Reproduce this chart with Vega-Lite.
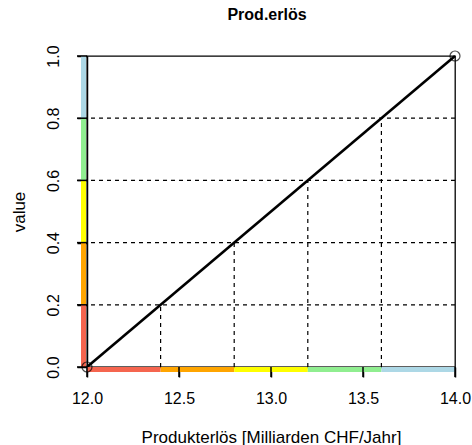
{
  "$schema": "https://vega.github.io/schema/vega-lite/v6.json",
  "width": 368,
  "height": 311,
  "autosize": {"type": "none"},
  "padding": {"left": 87, "top": 56, "right": 17, "bottom": 78},
  "title": {"text": "Prod.erlös", "fontSize": 16, "fontWeight": "bold", "font": "Liberation Sans", "color": "black", "offset": 22, "anchor": "middle", "dx": -4},
  "config": {
    "font": "Liberation Sans",
    "view": {"stroke": "black", "strokeWidth": 1.3},
    "axis": {"grid": false, "domainColor": "black", "domainWidth": 1.5, "labelColor": "black", "labelFontSize": 16, "titleColor": "black", "titleFontSize": 17, "titleFontWeight": "normal", "labelFont": "Liberation Sans", "titleFont": "Liberation Sans"},
    "axisX": {"ticks": true, "tickColor": "#000000", "tickWidth": 1.5, "tickSize": 10},
    "axisY": {"ticks": true, "tickColor": "#000000", "tickWidth": 1.5, "tickSize": 10}
  },
  "datasets": {
    "bands": [
      {"xlo": 12.0, "xhi": 12.4, "ylo": 0.0, "yhi": 0.2, "base": 0, "left": 12, "c": "#F5654F"},
      {"xlo": 12.4, "xhi": 12.8, "ylo": 0.2, "yhi": 0.4, "base": 0, "left": 12, "c": "#FFA500"},
      {"xlo": 12.8, "xhi": 13.2, "ylo": 0.4, "yhi": 0.6, "base": 0, "left": 12, "c": "#FFFF00"},
      {"xlo": 13.2, "xhi": 13.6, "ylo": 0.6, "yhi": 0.8, "base": 0, "left": 12, "c": "#90EE90"},
      {"xlo": 13.6, "xhi": 14.0, "ylo": 0.8, "yhi": 1.0, "base": 0, "left": 12, "c": "#ADD8E6"}
    ],
    "cuts": [
      {"x": 12.4, "y": 0.2, "base": 0},
      {"x": 12.8, "y": 0.4, "base": 0},
      {"x": 13.2, "y": 0.6, "base": 0},
      {"x": 13.6, "y": 0.8, "base": 0}
    ],
    "xticks": [
      {"v": 12.0, "base": 0},
      {"v": 12.5, "base": 0},
      {"v": 13.0, "base": 0},
      {"v": 13.5, "base": 0},
      {"v": 14.0, "base": 0}
    ],
    "yticks": [
      {"v": 0.0, "left": 12},
      {"v": 0.2, "left": 12},
      {"v": 0.4, "left": 12},
      {"v": 0.6, "left": 12},
      {"v": 0.8, "left": 12},
      {"v": 1.0, "left": 12}
    ],
    "line": [
      {"x": 12.0, "y": 0.0},
      {"x": 14.0, "y": 1.0}
    ]
  },
  "layer": [
    {
      "data": {"name": "line"},
      "mark": {"type": "line", "color": "black", "strokeWidth": 2.6},
      "encoding": {
        "x": {"field": "x", "type": "quantitative", "scale": {"domain": [12, 14], "nice": false, "zero": false},
              "axis": {"values": [12, 12.5, 13, 13.5, 14], "format": ".1f", "labelPadding": 13, "titlePadding": 23, "title": "Produkterlös [Milliarden CHF/Jahr]", "labelFlush": false}},
        "y": {"field": "y", "type": "quantitative", "scale": {"domain": [0, 1], "nice": false},
              "axis": {"values": [0, 0.2, 0.4, 0.6, 0.8, 1.0], "format": ".1f", "labelAngle": -90, "labelAlign": "center", "labelBaseline": "bottom", "labelPadding": 16, "titlePadding": 17, "title": "value", "labelFlush": false}}
      }
    },
    {
      "data": {"name": "bands"},
      "mark": {"type": "rule", "strokeWidth": 5, "yOffset": 2.5, "strokeCap": "butt"},
      "encoding": {
        "x": {"field": "xlo", "type": "quantitative"},
        "x2": {"field": "xhi"},
        "y": {"field": "base", "type": "quantitative"},
        "color": {"field": "c", "type": "nominal", "scale": null}
      }
    },
    {
      "data": {"name": "bands"},
      "mark": {"type": "rule", "strokeWidth": 5, "xOffset": -3.5, "strokeCap": "butt"},
      "encoding": {
        "x": {"field": "left", "type": "quantitative"},
        "y": {"field": "ylo", "type": "quantitative"},
        "y2": {"field": "yhi"},
        "color": {"field": "c", "type": "nominal", "scale": null}
      }
    },
    {
      "data": {"name": "xticks"},
      "mark": {"type": "rule", "strokeWidth": 1.5, "color": "black", "y2Offset": 10, "clip": false},
      "encoding": {
        "x": {"field": "v", "type": "quantitative"},
        "y": {"field": "base", "type": "quantitative"},
        "y2": {"field": "base"}
      }
    },
    {
      "data": {"name": "yticks"},
      "mark": {"type": "rule", "strokeWidth": 1.5, "color": "black", "x2Offset": -10, "clip": false},
      "encoding": {
        "x": {"field": "left", "type": "quantitative"},
        "x2": {"field": "left"},
        "y": {"field": "v", "type": "quantitative"}
      }
    },
    {
      "data": {"name": "cuts"},
      "mark": {"type": "rule", "strokeDash": [4, 4], "color": "black", "strokeWidth": 1.2},
      "encoding": {
        "y": {"field": "y", "type": "quantitative"}
      }
    },
    {
      "data": {"name": "cuts"},
      "mark": {"type": "rule", "strokeDash": [4, 4], "color": "black", "strokeWidth": 1.2},
      "encoding": {
        "x": {"field": "x", "type": "quantitative"},
        "y": {"field": "base", "type": "quantitative"},
        "y2": {"field": "y"}
      }
    },
    {
      "data": {"name": "line"},
      "mark": {"type": "point", "shape": "circle", "filled": false, "color": "black", "size": 100, "strokeWidth": 1.2, "clip": false},
      "encoding": {
        "x": {"field": "x", "type": "quantitative"},
        "y": {"field": "y", "type": "quantitative"}
      }
    }
  ]
}
